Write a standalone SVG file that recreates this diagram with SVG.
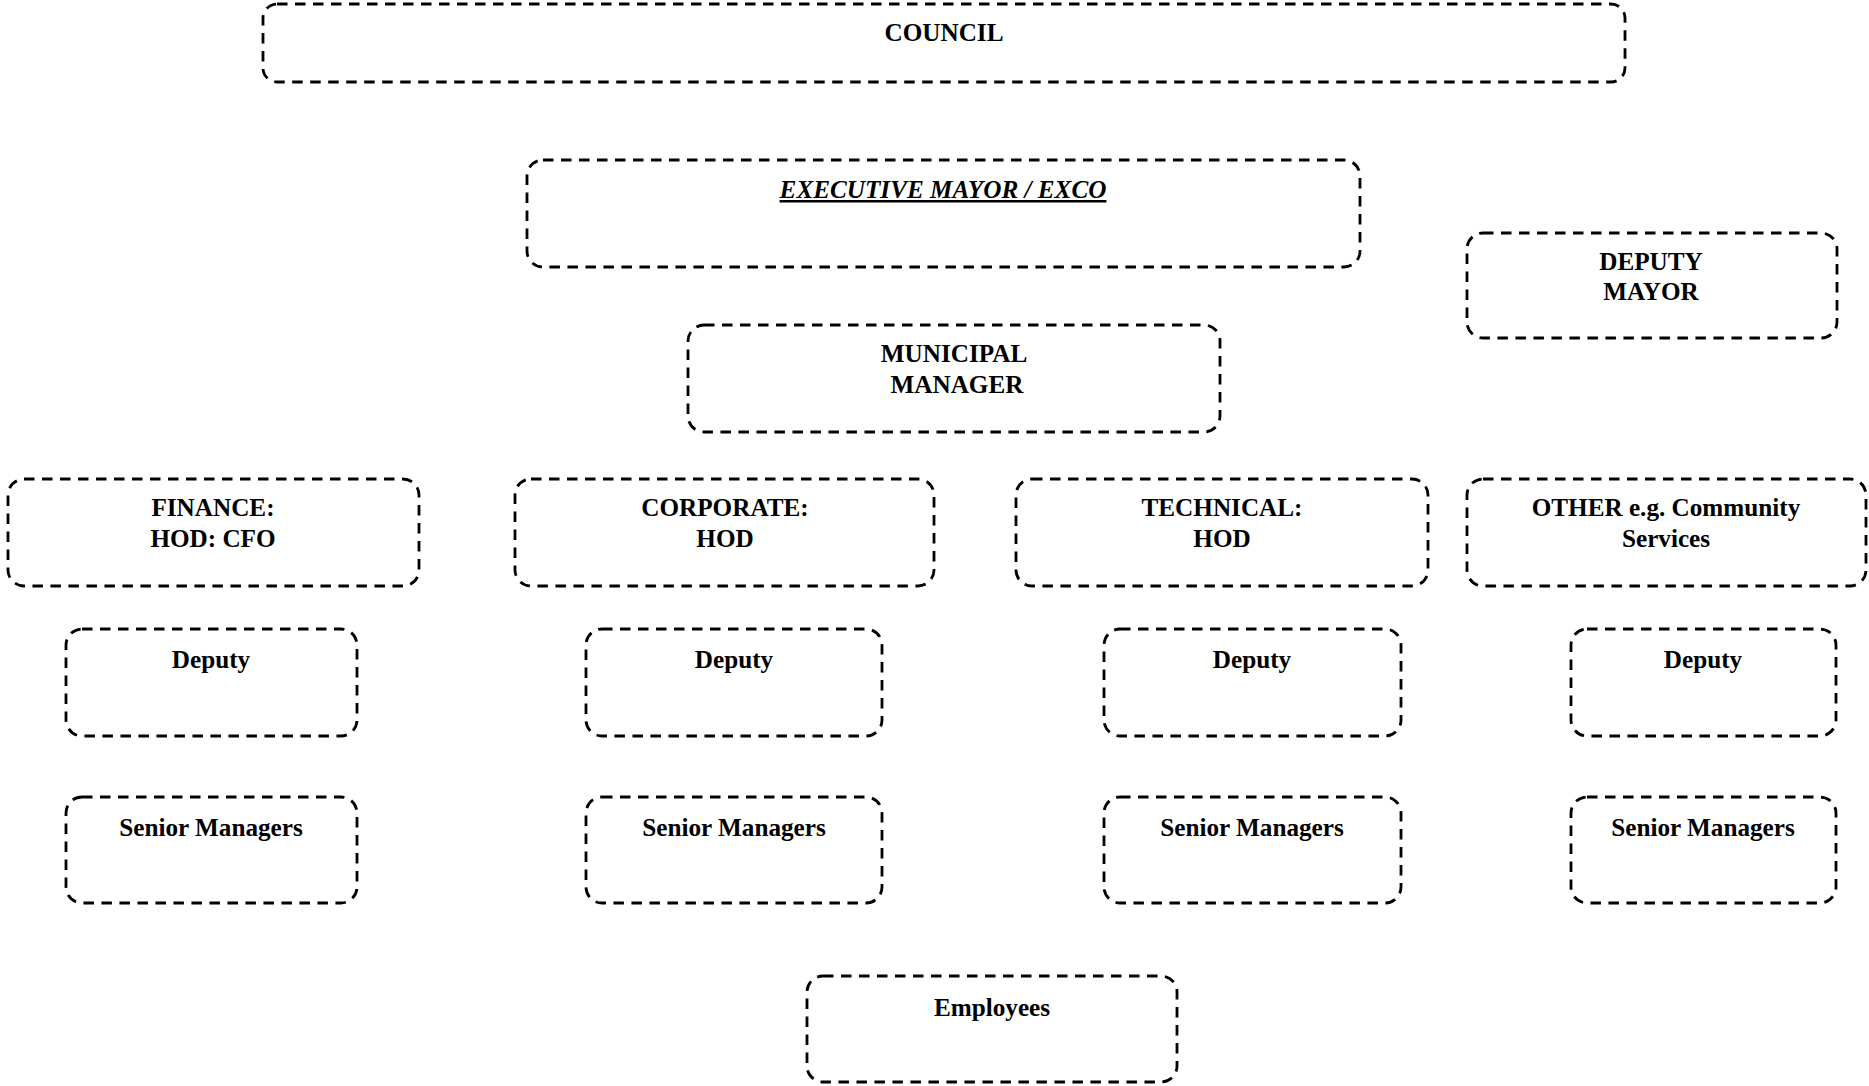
<svg xmlns="http://www.w3.org/2000/svg" width="1869" height="1086" viewBox="0 0 1869 1086">
  <style>
    .box { fill: none; stroke: #000; stroke-width: 2.8; stroke-dasharray: 10.5 7.5; }
    .lbl { font-family: "Liberation Serif", "Times New Roman", serif; font-weight: bold; font-size: 25.2px; fill: #000; text-anchor: middle; }
    .em { font-style: italic; text-decoration: underline; }
  </style>
  <rect width="1869" height="1086" fill="#fff"/>

  <!-- governance -->
  <g id="council">
    <rect class="box" x="263" y="4" width="1362" height="78" rx="14"/>
    <text class="lbl" x="944" y="41">COUNCIL</text>
  </g>
  <g id="executive-mayor">
    <rect class="box" x="527" y="160" width="833" height="107" rx="16"/>
    <text class="lbl em" x="943" y="198">EXECUTIVE MAYOR / EXCO</text>
  </g>
  <g id="deputy-mayor">
    <rect class="box" x="1467" y="233" width="370" height="105" rx="16"/>
    <text class="lbl" x="1651" y="270">DEPUTY</text>
    <text class="lbl" x="1651" y="300">MAYOR</text>
  </g>
  <g id="municipal-manager">
    <rect class="box" x="688" y="325" width="532" height="107" rx="16"/>
    <text class="lbl" x="954" y="362">MUNICIPAL</text>
    <text class="lbl" x="957" y="393">MANAGER</text>
  </g>

  <!-- departments -->
  <g id="finance">
    <rect class="box" x="8" y="479" width="411" height="107" rx="16"/>
    <text class="lbl" x="213" y="516">FINANCE:</text>
    <text class="lbl" x="213" y="547">HOD: CFO</text>
  </g>
  <g id="corporate">
    <rect class="box" x="515" y="479" width="419" height="107" rx="16"/>
    <text class="lbl" x="725" y="516">CORPORATE:</text>
    <text class="lbl" x="725" y="547">HOD</text>
  </g>
  <g id="technical">
    <rect class="box" x="1016" y="479" width="412" height="107" rx="16"/>
    <text class="lbl" x="1222" y="516">TECHNICAL:</text>
    <text class="lbl" x="1222" y="547">HOD</text>
  </g>
  <g id="other">
    <rect class="box" x="1467" y="479" width="399" height="107" rx="16"/>
    <text class="lbl" x="1666" y="516">OTHER e.g. Community</text>
    <text class="lbl" x="1666" y="547">Services</text>
  </g>

  <!-- deputies -->
  <g id="finance-deputy">
    <rect class="box" x="66" y="629" width="291" height="107" rx="16"/>
    <text class="lbl" x="211" y="668">Deputy</text>
  </g>
  <g id="corporate-deputy">
    <rect class="box" x="586" y="629" width="296" height="107" rx="16"/>
    <text class="lbl" x="734" y="668">Deputy</text>
  </g>
  <g id="technical-deputy">
    <rect class="box" x="1104" y="629" width="297" height="107" rx="16"/>
    <text class="lbl" x="1252" y="668">Deputy</text>
  </g>
  <g id="other-deputy">
    <rect class="box" x="1571" y="629" width="265" height="107" rx="16"/>
    <text class="lbl" x="1703" y="668">Deputy</text>
  </g>

  <!-- senior managers -->
  <g id="finance-senior">
    <rect class="box" x="66" y="797" width="291" height="106" rx="16"/>
    <text class="lbl" x="211" y="836">Senior Managers</text>
  </g>
  <g id="corporate-senior">
    <rect class="box" x="586" y="797" width="296" height="106" rx="16"/>
    <text class="lbl" x="734" y="836">Senior Managers</text>
  </g>
  <g id="technical-senior">
    <rect class="box" x="1104" y="797" width="297" height="106" rx="16"/>
    <text class="lbl" x="1252" y="836">Senior Managers</text>
  </g>
  <g id="other-senior">
    <rect class="box" x="1571" y="797" width="265" height="106" rx="16"/>
    <text class="lbl" x="1703" y="836">Senior Managers</text>
  </g>

  <!-- staff -->
  <g id="employees">
    <rect class="box" x="807" y="976" width="370" height="106" rx="16"/>
    <text class="lbl" x="992" y="1016">Employees</text>
  </g>
</svg>
